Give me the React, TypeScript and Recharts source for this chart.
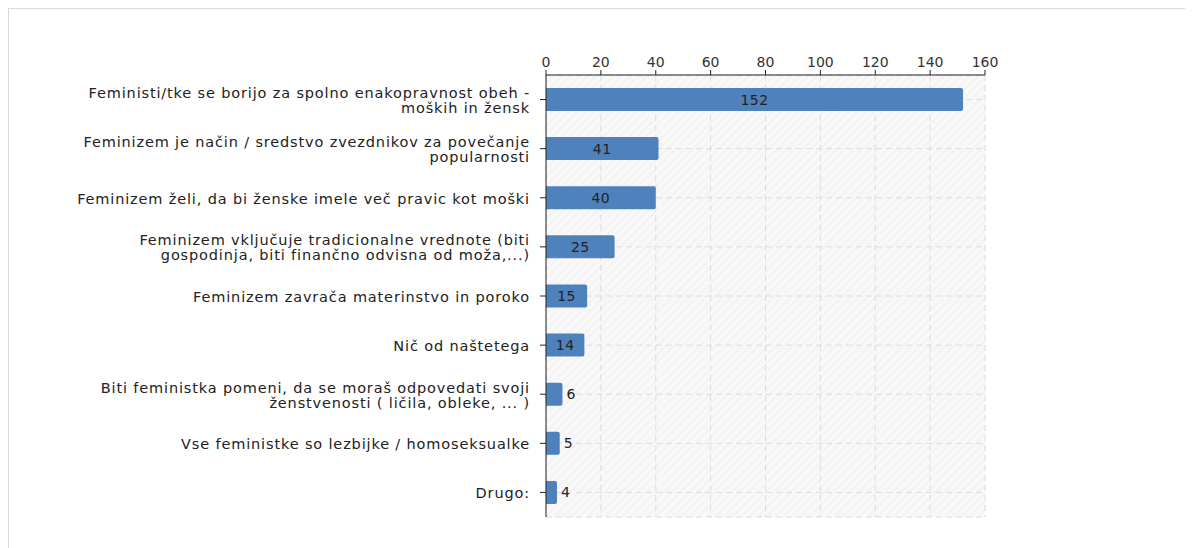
import React from "react";
import {
  BarChart,
  Bar,
  XAxis,
  YAxis,
  CartesianGrid,
  LabelList,
} from "recharts";

const categories: string[] = [
  "Feministi/tke se borijo za spolno enakopravnost obeh -\nmoških in žensk",
  "Feminizem je način / sredstvo zvezdnikov za povečanje\npopularnosti",
  "Feminizem želi, da bi ženske imele več pravic kot moški",
  "Feminizem vključuje tradicionalne vrednote (biti\ngospodinja, biti finančno odvisna od moža,...)",
  "Feminizem zavrača materinstvo in poroko",
  "Nič od naštetega",
  "Biti feministka pomeni, da se moraš odpovedati svoji\nženstvenosti ( ličila, obleke, ... )",
  "Vse feministke so lezbijke / homoseksualke",
  "Drugo:",
];
const counts: number[] = [152, 41, 40, 25, 15, 14, 6, 5, 4];
const xTicks: number[] = [0, 20, 40, 60, 80, 100, 120, 140, 160];

const data = categories.map((name, i) => ({ name, value: counts[i] }));

const FONT = "'DejaVu Sans', Verdana, sans-serif";

const CategoryTick = (props: any) => {
  const { x, y, payload } = props;
  const lines = String(payload.value).split("\n");
  const lh = 15;
  const startDy = -((lines.length - 1) * lh) / 2;
  return (
    <text
      x={x}
      y={y}
      textAnchor="end"
      fontSize={14.5}
      letterSpacing={0.85}
      fontFamily={FONT}
      fill="#222"
    >
      {lines.map((l, i) => (
        <tspan key={i} x={x} dy={i === 0 ? startDy + 6 : lh}>
          {l}
        </tspan>
      ))}
    </text>
  );
};

const ValueLabel = (props: any) => {
  const { x, y, width, height, value } = props;
  const inside = value >= 10;
  const cx = inside ? x + width / 2 : x + width + 4;
  return (
    <text
      x={cx}
      y={y + height / 2}
      dy={5}
      textAnchor={inside ? "middle" : "start"}
      fontSize={14}
      letterSpacing={0.5}
      fontFamily={FONT}
      fill="#222"
    >
      {value}
    </text>
  );
};

export default function App() {
  return (
    <div
      style={{
        width: 1185,
        height: 540,
        boxSizing: "border-box",
        borderTop: "1px solid #d9d9d9",
        borderLeft: "1px solid #d9d9d9",
        overflow: "hidden",
      }}
    >
      <BarChart
        width={1184}
        height={539}
        data={data}
        layout="vertical"
        margin={{ top: 36, right: 208, bottom: 31, left: 0 }}
        barCategoryGap={0}
      >
        <defs>
          <pattern
            id="hatch"
            width="6"
            height="6"
            patternUnits="userSpaceOnUse"
            patternTransform="rotate(45)"
          >
            <rect width="6" height="6" fill="#f8f8f8" />
            <line x1="0" y1="0" x2="0" y2="6" stroke="#ededed" strokeWidth="1.5" />
          </pattern>
        </defs>
        <CartesianGrid
          fill="url(#hatch)"
          stroke="#dcdcdc"
          strokeDasharray="6 4"
        />
        <XAxis
          type="number"
          orientation="top"
          domain={[0, 160]}
          ticks={xTicks}
          interval={0}
          tickSize={5}
          tickMargin={3}
          axisLine={{ stroke: "#222" }}
          tickLine={{ stroke: "#222" }}
          tick={{ fontSize: 14, fontFamily: FONT, fill: "#333" }}
        />
        <XAxis
          xAxisId="b"
          type="number"
          orientation="bottom"
          domain={[0, 160]}
          height={0}
          tick={false}
          tickLine={false}
          axisLine={{ stroke: "#dcdcdc" }}
        />
        <YAxis
          type="category"
          dataKey="name"
          width={537}
          interval={0}
          tickSize={6}
          tickMargin={10}
          axisLine={{ stroke: "#222" }}
          tickLine={{ stroke: "#222" }}
          tick={<CategoryTick />}
        />
        <YAxis
          yAxisId="r"
          type="category"
          dataKey="name"
          orientation="right"
          width={0}
          tick={false}
          tickLine={false}
          axisLine={{ stroke: "#dcdcdc" }}
        />
        <Bar
          dataKey="value"
          fill="#4f81bd"
          barSize={23}
          radius={[0, 2, 2, 0]}
          isAnimationActive={false}
        >
          <LabelList dataKey="value" content={<ValueLabel />} />
        </Bar>
      </BarChart>
    </div>
  );
}
